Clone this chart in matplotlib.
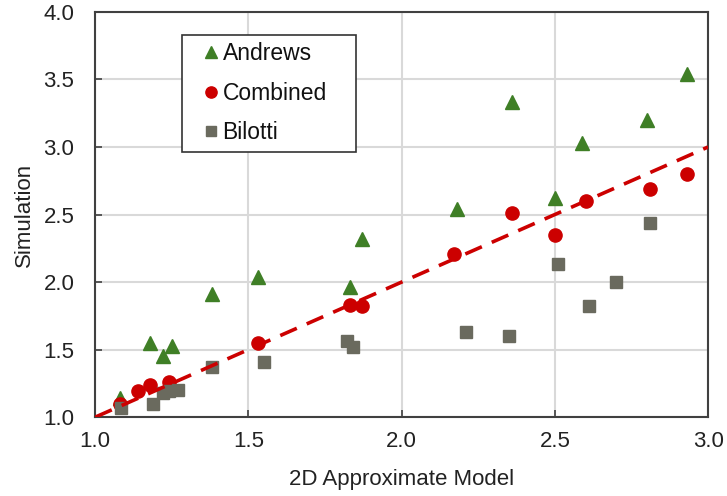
import matplotlib
matplotlib.use("Agg")
import matplotlib.pyplot as plt
from matplotlib.patches import Rectangle

plt.rcParams['font.family'] = ['Liberation Sans', 'DejaVu Sans']

# Andrews model vs simulation
andrews_x = [1.08, 1.18, 1.22, 1.25, 1.38, 1.53, 1.83, 1.87, 2.18, 2.36, 2.50, 2.59, 2.80, 2.93]
andrews_y = [1.14, 1.55, 1.45, 1.53, 1.91, 2.04, 1.96, 2.32, 2.54, 3.33, 2.62, 3.03, 3.20, 3.54]

# Combined model
combined_x = [1.08, 1.14, 1.18, 1.24, 1.53, 1.83, 1.87, 2.17, 2.36, 2.50, 2.60, 2.81, 2.93]
combined_y = [1.10, 1.19, 1.24, 1.26, 1.55, 1.83, 1.82, 2.21, 2.51, 2.35, 2.60, 2.69, 2.80]

# Bilotti model
bilotti_x = [1.085, 1.19, 1.22, 1.24, 1.27, 1.38, 1.55, 1.82, 1.84, 2.21, 2.35, 2.51, 2.61, 2.70, 2.81]
bilotti_y = [1.07, 1.10, 1.18, 1.19, 1.20, 1.37, 1.41, 1.56, 1.52, 1.63, 1.60, 2.13, 1.82, 2.00, 2.44]

ref_line = [1.0, 3.0]

fig = plt.figure(figsize=(7.27, 4.96), dpi=100)
ax = fig.add_axes([0.131, 0.159, 0.843, 0.817])

ax.plot(andrews_x, andrews_y, '^', color='#3f7f26', ms=10, ls='none', label='Andrews', zorder=3)
ax.plot(combined_x, combined_y, 'o', color='#cc0000', ms=9.5, ls='none', label='Combined', zorder=3)
ax.plot(bilotti_x, bilotti_y, 's', color='#6a6a5e', ms=9, ls='none', label='Bilotti', zorder=3)
ax.plot(ref_line, ref_line, color='#cc0000', lw=2.6, dashes=(5, 3), zorder=4)

ax.set_xlim(1.0, 3.0)
ax.set_ylim(1.0, 4.0)
ax.set_xticks([1.0, 1.5, 2.0, 2.5, 3.0])
ax.set_yticks([1.0, 1.5, 2.0, 2.5, 3.0, 3.5, 4.0])
ax.set_xticklabels(['1.0', '1.5', '2.0', '2.5', '3.0'])
ax.set_yticklabels(['1.0', '1.5', '2.0', '2.5', '3.0', '3.5', '4.0'])
ax.grid(True, color='#d9d9d9', lw=1.5, zorder=0)
ax.set_axisbelow(True)
for s in ax.spines.values():
    s.set_color('#404040')
    s.set_linewidth(1.5)
ax.tick_params(direction='in', length=5, width=1.2, color='#404040',
               labelsize=16, labelcolor='#222222')
ax.tick_params(axis='y', pad=15)
ax.tick_params(axis='x', pad=10)

ax.set_xlabel('2D Approximate Model', fontsize=16, color='#222222', labelpad=12)
ax.set_ylabel('Simulation', fontsize=16, color='#222222', labelpad=6)

# legend box drawn separately so the padding can be wider than tall
ax.add_patch(Rectangle((0.142, 0.654), 0.284, 0.289, transform=ax.transAxes,
                       facecolor='white', edgecolor='#333333', lw=1.2, zorder=5))
leg = ax.legend(loc='upper left', bbox_to_anchor=(0.176, 0.925), fontsize=16.5,
                frameon=False, handlelength=0.7, handletextpad=0.15,
                labelspacing=0.72, borderpad=0, borderaxespad=0, markerscale=0.85)
leg.set_zorder(6)
for t in leg.get_texts():
    t.set_color('#111111')

fig.savefig('out.png', dpi=100)
